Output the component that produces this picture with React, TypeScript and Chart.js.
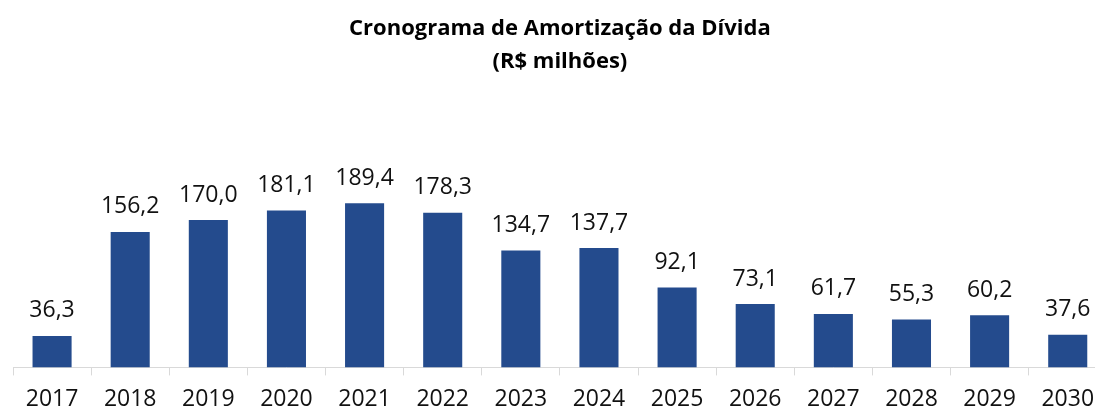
import React, { useEffect, useRef } from "react";
import { Chart, registerables } from "chart.js";

Chart.register(...registerables);

const years = ["2017", "2018", "2019", "2020", "2021", "2022", "2023", "2024", "2025", "2026", "2027", "2028", "2029", "2030"];
const amortization = [36.3, 156.2, 170.0, 181.1, 189.4, 178.3, 134.7, 137.7, 92.1, 73.1, 61.7, 55.3, 60.2, 37.6];
const titleLines = ["Cronograma de Amortização da Dívida", "(R$ milhões)"];

const FONT = "'Open Sans', 'Noto Sans', sans-serif";

const valueLabels = {
  id: "valueLabels",
  afterDatasetsDraw(chart: any) {
    const ctx = chart.ctx;
    const meta = chart.getDatasetMeta(0);
    ctx.save();
    ctx.font = `23px ${FONT}`;
    ctx.fillStyle = "#111111";
    ctx.textAlign = "center";
    ctx.textBaseline = "alphabetic";
    meta.data.forEach((bar: any, i: number) => {
      const v = amortization[i];
      const txt = v.toFixed(1).replace(".", ",");
      ctx.fillText(txt, bar.x, bar.y - 18.5);
    });
    ctx.restore();
  },
};

export default function App() {
  const ref = useRef<HTMLCanvasElement>(null);
  useEffect(() => {
    document.body.style.overflow = "hidden";
    const chart = new Chart(ref.current!, {
      type: "bar",
      data: {
        labels: years,
        datasets: [
          {
            data: amortization,
            backgroundColor: "#244B8D",
            borderWidth: 0,
            categoryPercentage: 0.5,
            barPercentage: 1,
          },
        ],
      },
      options: {
        responsive: false,
        animation: false,
        devicePixelRatio: 1,
        layout: { padding: { left: 13, right: 7.2, top: 0, bottom: 0 } },
        plugins: {
          legend: { display: false },
          tooltip: { enabled: false },
          title: {
            display: true,
            text: titleLines,
            color: "#000000",
            font: { family: FONT, size: 22, weight: "bold", lineHeight: 1.5 },
            padding: { top: 12, bottom: 116 },
          },
        },
        scales: {
          x: {
            grid: {
              display: true,
              drawOnChartArea: false,
              drawTicks: true,
              tickLength: 8,
              color: "#d9d9d9",
              offset: true,
            },
            border: { display: true, color: "#d9d9d9", width: 1 },
            ticks: {
              color: "#111111",
              font: { family: FONT, size: 23, lineHeight: 1.2 },
              padding: 10,
              maxRotation: 0,
              autoSkip: false,
            },
          },
          y: {
            display: false,
            min: 0,
            max: 200,
          },
        },
      },
      plugins: [valueLabels],
    });
    return () => chart.destroy();
  }, []);
  return (
    <div style={{ position: "fixed", left: 0, top: 0, width: 1095, height: 407, overflow: "hidden", background: "#fff" }}>
      <canvas ref={ref} width={1114} height={423} style={{ width: 1114, height: 423, display: "block" }} />
    </div>
  );
}
